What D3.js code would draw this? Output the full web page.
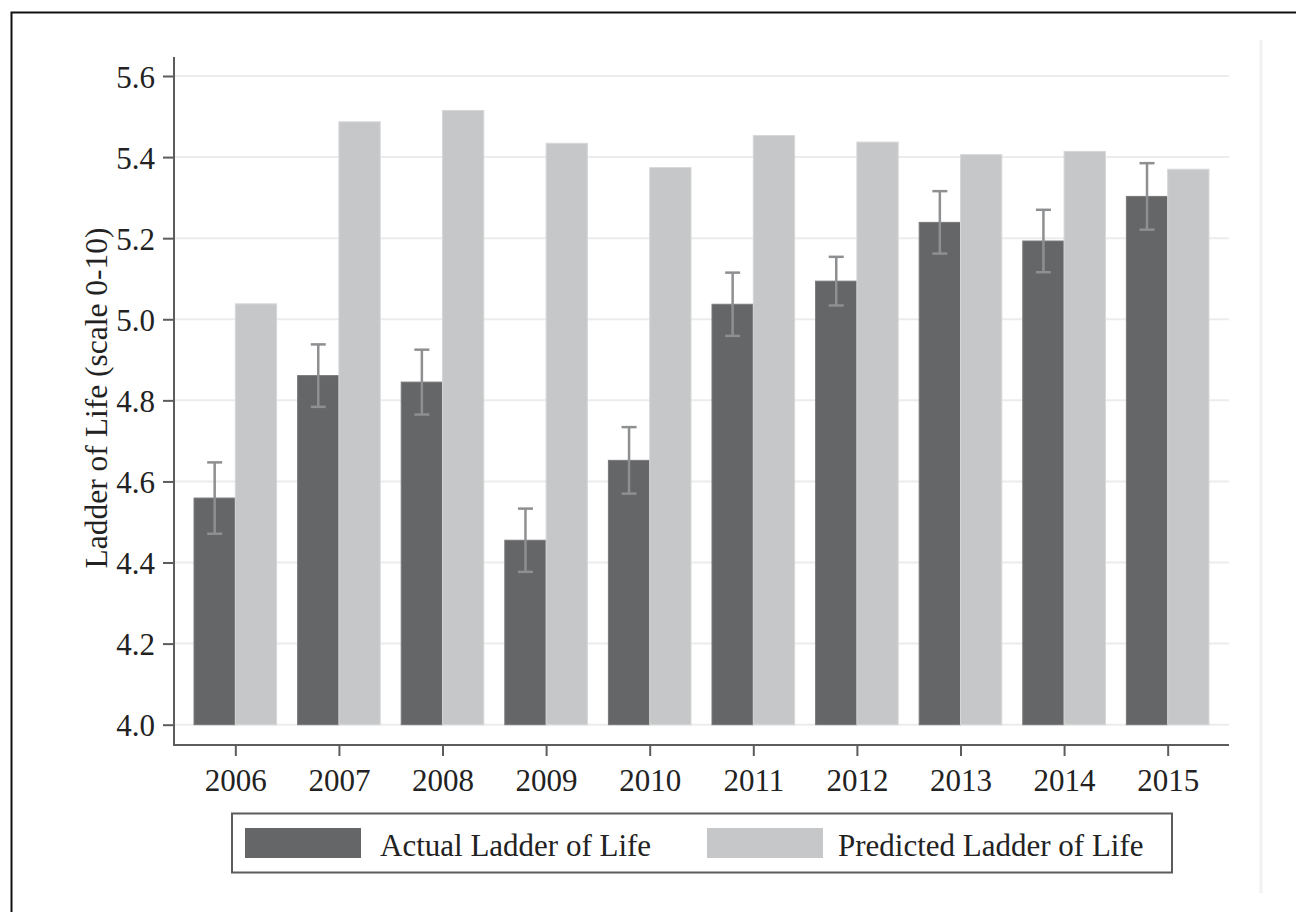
<!DOCTYPE html>
<html>
<head>
<meta charset="utf-8">
<script src="https://cdn.jsdelivr.net/npm/d3@7"></script>
<style>
  html, body { margin: 0; padding: 0; background: #fff; }
  svg { display: block; }
  text { font-family: "Liberation Serif", "Times New Roman", serif; fill: #222; }
</style>
</head>
<body>
<svg id="chart" width="1296" height="912"></svg>
<script>
// ---- data ----
const years = ["2006","2007","2008","2009","2010","2011","2012","2013","2014","2015"];
const actual = [4.559, 4.861, 4.845, 4.455, 4.652, 5.037, 5.094, 5.239, 5.193, 5.303];
const actualErr = [0.088, 0.077, 0.080, 0.078, 0.082, 0.078, 0.060, 0.077, 0.077, 0.082];
const predicted = [5.038, 5.487, 5.515, 5.434, 5.374, 5.453, 5.437, 5.406, 5.414, 5.370];
const yTicks = [4.0, 4.2, 4.4, 4.6, 4.8, 5.0, 5.2, 5.4, 5.6];
const seriesNames = ["Actual Ladder of Life", "Predicted Ladder of Life"];
const yTitle = "Ladder of Life (scale 0-10)";

// ---- layout ----
const svg = d3.select("#chart");
const left = 174, right = 1229, axisTop = 57, axisBottom = 745;
const colDark = "#656668", colLight = "#c6c7c9";
const fontSize = 31;

// outer frame
svg.append("rect").attr("x", 11.5).attr("y", 12.5).attr("width", 1400).attr("height", 1000)
  .attr("fill", "none").attr("stroke", "#111").attr("stroke-width", 2);
// faint right line
svg.append("line").attr("x1", 1261).attr("x2", 1261).attr("y1", 40).attr("y2", 893)
  .attr("stroke", "#f1f1f1").attr("stroke-width", 3);

const y = d3.scaleLinear().domain([4.0, 5.6]).range([724.7, 76]);
const x = d3.scalePoint().domain(years).range([left, right]).padding(0.592);
const sub = d3.scaleBand().domain(seriesNames).range([-41.3, 41.3]).padding(0);

// gridlines
svg.append("g").selectAll("line").data(yTicks).join("line")
  .attr("x1", left).attr("x2", right)
  .attr("y1", d => y(d)).attr("y2", d => y(d))
  .attr("stroke", "#ececec").attr("stroke-width", 2);

// bars
const rows = years.map((yr, i) => ({yr, a: actual[i], e: actualErr[i], p: predicted[i]}));
const g = svg.append("g");
g.selectAll("rect.act").data(rows).join("rect").attr("class", "act")
  .attr("x", d => x(d.yr) + sub(seriesNames[0]))
  .attr("width", sub.bandwidth())
  .attr("y", d => y(d.a)).attr("height", d => y(4.0) - y(d.a))
  .attr("fill", colDark).attr("stroke", "#79797b").attr("stroke-width", 1);
g.selectAll("rect.pred").data(rows).join("rect").attr("class", "pred")
  .attr("x", d => x(d.yr) + sub(seriesNames[1]))
  .attr("width", sub.bandwidth())
  .attr("y", d => y(d.p)).attr("height", d => y(4.0) - y(d.p))
  .attr("fill", colLight).attr("stroke", "#d6d7d8").attr("stroke-width", 1);

// error bars
const eb = svg.append("g").attr("stroke", "#8e8f91").attr("stroke-width", 2.5).attr("fill", "none");
rows.forEach(d => {
  const cx = x(d.yr) + sub(seriesNames[0]) + sub.bandwidth() / 2;
  eb.append("line").attr("x1", cx).attr("x2", cx).attr("y1", y(d.a + d.e)).attr("y2", y(d.a - d.e));
  eb.append("line").attr("x1", cx - 7.5).attr("x2", cx + 7.5).attr("y1", y(d.a + d.e)).attr("y2", y(d.a + d.e));
  eb.append("line").attr("x1", cx - 7.5).attr("x2", cx + 7.5).attr("y1", y(d.a - d.e)).attr("y2", y(d.a - d.e));
});

// y axis
const yAxis = svg.append("g").attr("transform", `translate(${left},0)`)
  .call(d3.axisLeft(y).tickValues(yTicks).tickFormat(d3.format(".1f")).tickSize(11).tickPadding(8));
yAxis.select(".domain").remove();
yAxis.append("line").attr("x1", 0).attr("x2", 0).attr("y1", axisTop).attr("y2", axisBottom + 1)
  .attr("stroke", "#5c5c5c").attr("stroke-width", 2);
yAxis.selectAll(".tick line").attr("stroke", "#5c5c5c").attr("stroke-width", 2);
yAxis.selectAll(".tick text").attr("font-size", fontSize).attr("fill", "#222")
  .attr("font-family", "Liberation Serif, serif").attr("dy", "0.36em");

// x axis
const xAxis = svg.append("g").attr("transform", `translate(0,${axisBottom})`)
  .call(d3.axisBottom(x).tickSize(11).tickPadding(13));
xAxis.select(".domain").remove();
xAxis.append("line").attr("x1", left - 1).attr("x2", right).attr("y1", 0).attr("y2", 0)
  .attr("stroke", "#5c5c5c").attr("stroke-width", 2);
xAxis.selectAll(".tick line").attr("stroke", "#5c5c5c").attr("stroke-width", 2);
xAxis.selectAll(".tick text").attr("font-size", fontSize).attr("fill", "#222")
  .attr("font-family", "Liberation Serif, serif");

// y title
svg.append("text").attr("transform", "translate(107,398) rotate(-90)")
  .attr("text-anchor", "middle").attr("font-size", 31.5).text(yTitle);

// legend
const lg = svg.append("g");
lg.append("rect").attr("x", 232).attr("y", 813.5).attr("width", 940).attr("height", 59)
  .attr("fill", "#fff").attr("stroke", "#5c5c5c").attr("stroke-width", 2);
const legendItems = [
  {name: seriesNames[0], color: colDark, x: 245, tx: 380},
  {name: seriesNames[1], color: colLight, x: 707, tx: 838}
];
legendItems.forEach(it => {
  lg.append("rect").attr("x", it.x).attr("y", 828).attr("width", 116).attr("height", 30).attr("fill", it.color);
  lg.append("text").attr("x", it.tx).attr("y", 856).attr("font-size", fontSize).text(it.name);
});
</script>
</body>
</html>
